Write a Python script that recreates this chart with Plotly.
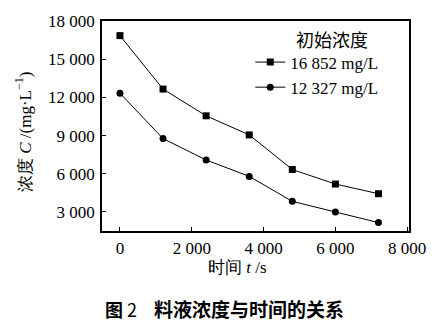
import plotly.graph_objects as go

time_s = [0, 1200, 2400, 3600, 4800, 6000, 7200]
conc_16852 = [16852, 12650, 10550, 9050, 6330, 5190, 4430]
conc_12327 = [12327, 8760, 7080, 5790, 3830, 3000, 2160]
series_names = ["16 852 mg/L", "12 327 mg/L"]
x_ticks = [0, 2000, 4000, 6000, 8000]
x_tick_labels = ["0", "2 000", "4 000", "6 000", "8 000"]
y_ticks = [3000, 6000, 9000, 12000, 15000, 18000]
y_tick_labels = ["3 000", "6 000", "9 000", "12 000", "15 000", "18 000"]

SERIF = "Liberation Serif"
CJK = "Noto Sans CJK SC"

fig = go.Figure()
fig.add_trace(go.Scatter(x=time_s, y=conc_16852, mode="lines+markers", name=series_names[0],
                         line=dict(color="black", width=1),
                         marker=dict(symbol="square", size=7, color="black")))
fig.add_trace(go.Scatter(x=time_s, y=conc_12327, mode="lines+markers", name=series_names[1],
                         line=dict(color="black", width=1),
                         marker=dict(symbol="circle", size=7, color="black")))

axis_common = dict(showgrid=False, zeroline=False, showline=True, linecolor="black", linewidth=1.5,
                   mirror=True, ticks="inside", ticklen=4, tickcolor="black", tickwidth=1,
                   tickfont=dict(family=SERIF, size=17, color="black"))
fig.update_xaxes(range=[-500, 8050], tickvals=x_ticks, ticktext=x_tick_labels,
                 ticklabelstandoff=1, **axis_common)
fig.update_yaxes(range=[1500, 18000], tickvals=y_ticks, ticktext=y_tick_labels,
                 ticklabelstandoff=2, **axis_common)

fig.update_layout(
    width=440, height=323,
    margin=dict(l=102, r=31, t=12, b=92),
    paper_bgcolor="white", plot_bgcolor="white",
    showlegend=True,
    legend=dict(x=0.483, y=0.888, xanchor="left", yanchor="top",
                bgcolor="rgba(0,0,0,0)", borderwidth=0,
                font=dict(family=SERIF, size=17, color="black"),
                tracegroupgap=0, itemwidth=30),
    annotations=[
        dict(text="初始浓度", xref="paper", yref="paper",
             x=(332 - 102) / 307, y=(231 - 31) / 219, xanchor="center", yanchor="middle",
             showarrow=False, font=dict(family=CJK, size=18, color="black")),
        dict(text="浓度 <i>C</i> /(mg·L<sup>−1</sup>)", xref="paper", yref="paper",
             x=-0.255, y=0.47, xanchor="center", yanchor="middle", textangle=-90,
             showarrow=False, font=dict(family=SERIF, size=17, color="black")),
        dict(text="时间 <i>t</i> /s", xref="paper", yref="paper",
             x=0.44, y=-0.175, xanchor="center", yanchor="middle",
             showarrow=False, font=dict(family=SERIF, size=17, color="black")),
        dict(text="<b>图</b> 2", xref="paper", yref="paper",
             x=(103 - 102) / 307, y=(231 - 312) / 219, xanchor="left", yanchor="middle",
             showarrow=False, font=dict(family=CJK, size=18, color="black")),
        dict(text="<b>料液浓度与时间的关系</b>", xref="paper", yref="paper",
             x=(152 - 102) / 307, y=(231 - 312) / 219, xanchor="left", yanchor="middle",
             showarrow=False, font=dict(family=CJK, size=19, color="black")),
    ],
)

fig.write_html("out.html")
